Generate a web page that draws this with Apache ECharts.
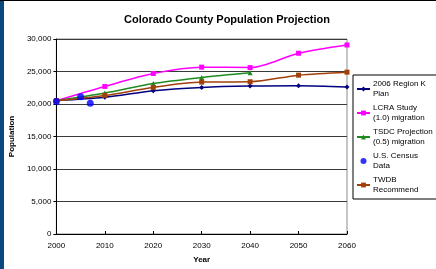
<!DOCTYPE html>
<html>
<head>
<meta charset="utf-8">
<script src="https://cdn.jsdelivr.net/npm/echarts@6/dist/echarts.min.js"></script>
<style>
  html, body { margin: 0; padding: 0; background: #fff; }
  #wrap { position: relative; width: 436px; height: 269px; overflow: hidden; }
  #chart { width: 436px; height: 269px; }
  .edge-left { position: absolute; left: 0; top: 0; width: 4px; height: 269px; background: #0a4a80; }
  .edge-top { position: absolute; left: 0; top: 0; width: 436px; height: 1px; background: #000; }
</style>
</head>
<body>
<div id="wrap">
  <div id="chart"></div>
  <div class="edge-left"></div>
  <div class="edge-top"></div>
</div>
<script>
  // values
  const years = [2000, 2010, 2020, 2030, 2040, 2050, 2060];
  const regionK = [20510, 21020, 22040, 22550, 22760, 22810, 22600];
  const lcra = [20510, 22700, 24690, 25670, 25600, 27810, 29080];
  const tsdcYears = [2000, 2010, 2020, 2030, 2040];
  const tsdc = [20510, 21690, 23160, 24080, 24800];
  const censusYears = [2000, 2005, 2007];
  const census = [20390, 21120, 20100];
  const twdb = [20510, 21320, 22550, 23370, 23420, 24440, 24900];

  const legendText = {
    '2006 Region K Plan': '2006 Region K\nPlan',
    'LCRA Study (1.0) migration': 'LCRA Study\n(1.0) migration',
    'TSDC Projection (0.5) migration': 'TSDC Projection\n(0.5) migration',
    'U.S. Census Data': 'U.S. Census\nData',
    'TWDB Recommend': 'TWDB\nRecommend'
  };

  const pairs = (xs, ys) => xs.map((x, i) => [x, ys[i]]);

  const chart = echarts.init(document.getElementById('chart'), null, {renderer: 'canvas'});

  const lineSeries = (name, xs, ys, color, symbol) => ({
    name: name,
    type: 'line',
    data: pairs(xs, ys),
    smooth: 0.3,
    symbol: symbol,
    symbolSize: 5,
    lineStyle: {color: color, width: 1.5},
    itemStyle: {color: color},
    z: 2
  });

  const option = {
    animation: false,
    textStyle: {fontFamily: 'Liberation Sans, Arial, sans-serif'},
    title: {
      text: 'Colorado County Population Projection',
      left: 222,
      textAlign: 'center',
      top: 9,
      textStyle: {fontSize: 11, fontWeight: 'bold', color: '#000'}
    },
    legend: {
      orient: 'vertical',
      left: 353,
      top: 75,
      padding: [4, 12, 4, 3],
      borderColor: '#000',
      borderWidth: 1,
      itemWidth: 13,
      itemHeight: 6,
      itemGap: 4,
      textStyle: {fontSize: 8, lineHeight: 10, color: '#000', padding: [0, 0, 0, -2]},
      formatter: name => legendText[name] || name
    },
    grid: {
      left: 56,
      right: 89,
      top: 39,
      bottom: 34,
      show: true,
      borderColor: '#8c8c8c',
      borderWidth: 1
    },
    xAxis: {
      type: 'value',
      min: 2000,
      max: 2060,
      interval: 10,
      name: 'Year',
      nameLocation: 'middle',
      nameGap: 22,
      nameTextStyle: {fontSize: 8, fontWeight: 'bold', color: '#000'},
      axisLine: {lineStyle: {color: '#000', width: 1}},
      axisTick: {show: true, inside: true, length: 3, lineStyle: {color: '#000'}},
      axisLabel: {fontSize: 8, color: '#000', margin: 8, formatter: v => String(v)},
      splitLine: {show: false}
    },
    yAxis: {
      type: 'value',
      min: 0,
      max: 30000,
      interval: 5000,
      name: 'Population',
      nameLocation: 'middle',
      nameGap: 37,
      nameTextStyle: {fontSize: 8, fontWeight: 'bold', color: '#000'},
      axisLine: {show: true, lineStyle: {color: '#000', width: 1}},
      axisTick: {show: true, length: 3, lineStyle: {color: '#000'}},
      axisLabel: {
        fontSize: 8,
        color: '#000',
        margin: 5,
        formatter: v => v.toLocaleString('en-US')
      },
      splitLine: {show: true, lineStyle: {color: '#3a3a3a', width: 1}}
    },
    series: [
      lineSeries('2006 Region K Plan', years, regionK, '#000080', 'diamond'),
      lineSeries('LCRA Study (1.0) migration', years, lcra, '#ff00ff', 'rect'),
      lineSeries('TSDC Projection (0.5) migration', tsdcYears, tsdc, '#1f8a1f', 'triangle'),
      {
        name: 'U.S. Census Data',
        type: 'scatter',
        data: pairs(censusYears, census),
        symbol: 'circle',
        symbolSize: 7,
        itemStyle: {color: '#0000ff'},
        z: 5
      },
      lineSeries('TWDB Recommend', years, twdb, '#a0400a', 'rect')
    ]
  };

  chart.setOption(option);
</script>
</body>
</html>
